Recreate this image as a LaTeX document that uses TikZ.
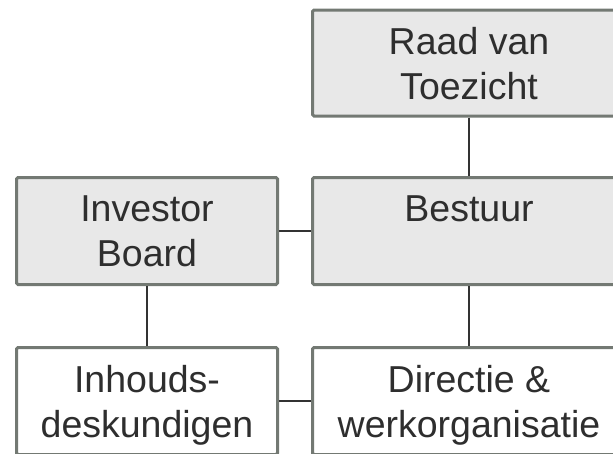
\documentclass[tikz,border=0pt]{standalone}
\usepackage{fontspec}
\setmainfont{Liberation Sans}
\definecolor{boxfill}{HTML}{E8E8E8}
\definecolor{boxline}{HTML}{737973}
\definecolor{txt}{HTML}{2E2E2E}
\definecolor{conn}{HTML}{333333}
\begin{document}
\begin{tikzpicture}[x=1pt,y=-1pt,
  orgbox/.style={rectangle, draw=boxline, line width=3pt, rounded corners=1.5pt,
    inner sep=0pt, align=center, text=txt, text depth=0pt,
    font=\fontsize{37.5}{45}\selectfont},
  grey/.style={orgbox, fill=boxfill},
  white/.style={orgbox, fill=white},
  link/.style={draw=conn, line width=2pt}]
\useasboundingbox (0,0) rectangle (613,453);
\clip (0,0) rectangle (613,453);
\node[grey, minimum width=313pt, minimum height=106pt] (raad) at (469,63) {Raad van\\Toezicht};
\node[grey, minimum width=313pt, minimum height=107pt] (bestuur) at (469,231) {Bestuur\\\phantom{B}};
\node[grey, minimum width=261pt, minimum height=107pt] (investor) at (147,231) {Investor\\Board};
\node[white, minimum width=261pt, minimum height=107pt] (inhoud) at (147,401) {Inhouds-\\deskundigen};
\node[white, minimum width=313pt, minimum height=107pt] (directie) at (469,401) {Directie \&\\werkorganisatie};
\draw[link] (raad.south) -- (bestuur.north);
\draw[link] (investor.east) -- (bestuur.west);
\draw[link] (investor.south) -- (inhoud.north);
\draw[link] (bestuur.south) -- (directie.north);
\draw[link] (inhoud.east) -- (directie.west);
\end{tikzpicture}
\end{document}
